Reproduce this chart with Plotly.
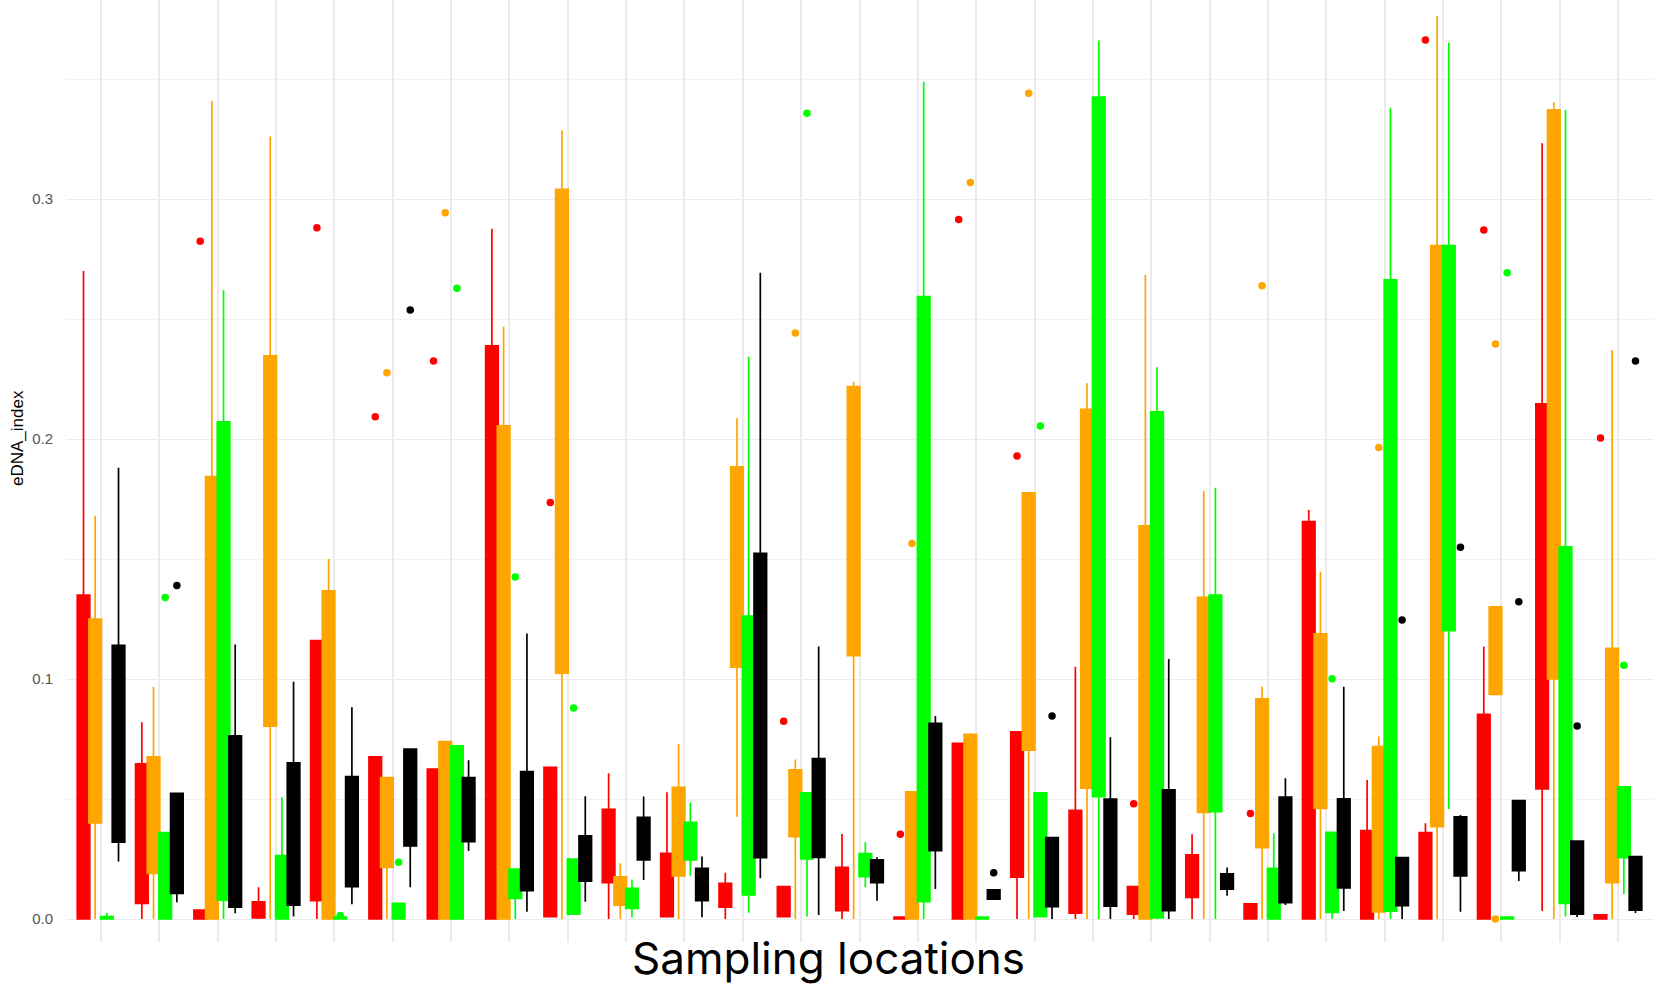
import plotly.graph_objects as go

# Sampling locations (27 sites, x tick labels hidden in the reference)
locations = list(range(1, 28))

# Box statistics per group colour: lower whisker, Q1, Q3, upper whisker
red_lo = [0, 0, 0, 0, 0, 0, 0, 0, 0.001, 0, 0.001, 0, 0.001, 0, 0, 0, 0, 0, 0, 0, 0, 0, 0, 0, 0, 0.0033, 0]
red_q1 = [0, 0.0065, 0, 0.0005, 0.0076, 0, 0, 0, 0.001, 0.0151, 0.001, 0.0049, 0.001, 0.0035, 0, 0, 0.0174, 0.0024, 0.002, 0.009, 0, 0, 0, 0, 0, 0.0542, 0]
red_q3 = [0.135, 0.0646, 0.0037, 0.0072, 0.116, 0.0676, 0.0625, 0.2388, 0.0632, 0.0457, 0.0274, 0.0149, 0.0135, 0.0215, 0.0008, 0.0732, 0.078, 0.0453, 0.0135, 0.0267, 0.0063, 0.1656, 0.0368, 0.036, 0.0853, 0.2146, 0.0017]
red_hi = [0.270, 0.082, 0.0037, 0.0132, 0.116, 0.0676, 0.0625, 0.2876, 0.0632, 0.0607, 0.0528, 0.0193, 0.0135, 0.0354, 0.0008, 0.0732, 0.078, 0.1051, 0.0135, 0.0353, 0.0063, 0.1704, 0.0579, 0.0399, 0.1135, 0.3232, 0.0017]
red_out_loc = [3, 5, 6, 7, 9, 13, 15, 16, 17, 19, 21, 24, 25, 27]
red_out_val = [0.2824, 0.288, 0.2093, 0.2325, 0.1735, 0.0824, 0.0353, 0.2915, 0.1929, 0.048, 0.044, 0.3663, 0.2871, 0.2004]

orange_lo = [0, 0, 0, 0, 0, 0, 0, 0, 0, 0, 0, 0.0426, 0, 0, 0, 0, 0, 0, 0, 0, 0, 0, 0, 0, 0.0936, 0, 0]
orange_q1 = [0.040, 0.019, 0, 0.0804, 0, 0.0215, 0, 0, 0.1024, 0.0058, 0.018, 0.1049, 0.0343, 0.1097, 0, 0, 0.0704, 0.0545, 0, 0.0444, 0.0297, 0.0461, 0.003, 0.0385, 0.0936, 0.1, 0.0151]
orange_q3 = [0.125, 0.0676, 0.1843, 0.2347, 0.1367, 0.0589, 0.0739, 0.2055, 0.304, 0.0176, 0.0549, 0.1884, 0.0621, 0.2218, 0.053, 0.0769, 0.1776, 0.2124, 0.1638, 0.134, 0.0917, 0.1188, 0.0718, 0.2806, 0.1301, 0.3371, 0.1128]
orange_hi = [0.168, 0.0967, 0.3408, 0.326, 0.150, 0.0589, 0.0739, 0.2468, 0.3285, 0.0232, 0.0729, 0.2086, 0.0665, 0.2239, 0.053, 0.0769, 0.1776, 0.2232, 0.2683, 0.1783, 0.0968, 0.1447, 0.076, 0.3764, 0.1301, 0.3403, 0.2371]
orange_out_loc = [6, 7, 13, 15, 16, 17, 21, 23, 25, 25]
orange_out_val = [0.2276, 0.2943, 0.2442, 0.1565, 0.3069, 0.3441, 0.2639, 0.1965, 0.2396, 0.0]

green_lo = [0, 0, 0, 0, 0, 0, 0, 0, 0.002, 0.0007, 0.018, 0.0026, 0.001, 0.0132, 0, 0, 0.001, 0, 0, 0, 0, 0, 0, 0.0458, 0, 0.001, 0.0104]
green_q1 = [0, 0, 0.0079, 0, 0, 0, 0, 0.0086, 0.002, 0.0044, 0.0246, 0.01, 0.025, 0.0176, 0.0072, 0, 0.001, 0.051, 0.0005, 0.0447, 0, 0.0028, 0.0033, 0.1201, 0, 0.0065, 0.0256]
green_q3 = [0.001, 0.036, 0.2072, 0.0264, 0.0008, 0.0065, 0.0722, 0.0208, 0.025, 0.0128, 0.0403, 0.1262, 0.0526, 0.0273, 0.2593, 0.0008, 0.0526, 0.3425, 0.2113, 0.135, 0.0211, 0.0361, 0.2663, 0.2806, 0.0008, 0.1551, 0.0551]
green_hi = [0.0025, 0.036, 0.262, 0.0507, 0.0008, 0.0065, 0.0722, 0.0208, 0.025, 0.0165, 0.0485, 0.2343, 0.0526, 0.032, 0.3489, 0.0008, 0.0526, 0.366, 0.2299, 0.1797, 0.0357, 0.0361, 0.338, 0.3651, 0.0008, 0.3371, 0.0551]
green_out_loc = [2, 5, 6, 7, 8, 9, 13, 17, 22, 25, 27]
green_out_val = [0.134, 0.0015, 0.0236, 0.2628, 0.1425, 0.0879, 0.3357, 0.2054, 0.1001, 0.2693, 0.1057]

black_lo = [0.024, 0.007, 0.0024, 0.001, 0.0062, 0.0132, 0.0283, 0.003, 0.0072, 0.0163, 0.0007, 0.017, 0.0017, 0.0076, 0.0125, 0.0083, 0, 0, 0, 0.0097, 0.0058, 0.0033, 0, 0.003, 0.0158, 0.0008, 0.0025]
black_q1 = [0.032, 0.0107, 0.0049, 0.0058, 0.0135, 0.0305, 0.0322, 0.0118, 0.0158, 0.0246, 0.0076, 0.0256, 0.0257, 0.0151, 0.0285, 0.0083, 0.0051, 0.0054, 0.0035, 0.0124, 0.0068, 0.013, 0.0056, 0.018, 0.0201, 0.002, 0.0037]
black_q3 = [0.114, 0.0524, 0.0763, 0.0651, 0.0593, 0.0708, 0.0589, 0.0614, 0.0346, 0.0424, 0.0211, 0.1524, 0.0668, 0.0246, 0.0815, 0.0121, 0.0339, 0.05, 0.0538, 0.0188, 0.0508, 0.0501, 0.0256, 0.0426, 0.0493, 0.0325, 0.026]
black_hi = [0.188, 0.0524, 0.1144, 0.0989, 0.0882, 0.0708, 0.0662, 0.119, 0.0512, 0.051, 0.026, 0.2693, 0.1135, 0.0257, 0.0846, 0.0121, 0.0339, 0.0757, 0.1083, 0.0215, 0.0586, 0.0968, 0.0256, 0.0433, 0.0493, 0.0325, 0.026]
black_out_loc = [2, 6, 16, 17, 23, 24, 25, 26, 27]
black_out_val = [0.139, 0.2538, 0.0193, 0.0846, 0.1246, 0.1549, 0.1322, 0.0804, 0.2325]

y_ticks = [0, 0.1, 0.2, 0.3]
y_tick_labels = ["0.0", "0.1", "0.2", "0.3"]

series = [
    ("red", "#FF0000", -0.3, red_lo, red_q1, red_q3, red_hi, red_out_loc, red_out_val),
    ("orange", "#FFA500", -0.1, orange_lo, orange_q1, orange_q3, orange_hi, orange_out_loc, orange_out_val),
    ("green", "#00FF00", 0.1, green_lo, green_q1, green_q3, green_hi, green_out_loc, green_out_val),
    ("black", "#000000", 0.3, black_lo, black_q1, black_q3, black_hi, black_out_loc, black_out_val),
]

fig = go.Figure()
for name, col, off, lo, q1, q3, hi, oloc, oval in series:
    fig.add_trace(go.Box(
        name=name,
        x=[loc + off for loc in locations],
        q1=q1, median=q1, q3=q3,
        lowerfence=lo, upperfence=hi,
        width=0.215,
        whiskerwidth=0,
        boxpoints=False,
        fillcolor=col,
        line=dict(color=col, width=1.7),
        showlegend=False,
        hoverinfo="skip",
    ))
for name, col, off, lo, q1, q3, hi, oloc, oval in series:
    fig.add_trace(go.Scatter(
        x=[loc + off for loc in oloc], y=oval,
        mode="markers",
        marker=dict(color=col, size=7.5, line=dict(width=0)),
        showlegend=False, hoverinfo="skip",
    ))

fig.update_layout(
    width=1653, height=987, autosize=False,
    margin=dict(l=66, r=0, t=0, b=45),
    plot_bgcolor="white", paper_bgcolor="white",
    boxmode="overlay",
    xaxis=dict(
        range=[0.4, 27.6], tickvals=locations, showticklabels=False,
        showgrid=True, gridcolor="#EBEBEB", gridwidth=2,
        zeroline=False, showline=False, ticks="",
    ),
    yaxis=dict(
        range=[-0.00958, 0.38292], tickvals=y_ticks, ticktext=y_tick_labels,
        showgrid=True, gridcolor="#EBEBEB", gridwidth=1.3,
        minor=dict(dtick=0.05, showgrid=True, gridcolor="#F3F3F3", gridwidth=0.9, tick0=0),
        zeroline=False, showline=False,
        ticks="outside", ticklen=9, tickcolor="rgba(0,0,0,0)",
        tickfont=dict(family="Liberation Sans, Arial", size=15, color="#555555"),
    ),
    annotations=[
        dict(text="eDNA_index", textangle=-90, xref="paper", yref="paper",
             x=(17 - 66) / 1587, y=(942 - 438) / 942, xanchor="center", yanchor="middle",
             showarrow=False, font=dict(family="Liberation Sans, Arial", size=17, color="black")),
        dict(text="Sampling locations", xref="paper", yref="paper",
             x=(828 - 66) / 1587, y=0, yshift=-16, xanchor="center", yanchor="middle",
             showarrow=False, font=dict(family="Inter", size=44, color="black")),
    ],
)

fig.write_html("out.html", config={"displayModeBar": False},
               post_script="document.body.style.margin='0';")
